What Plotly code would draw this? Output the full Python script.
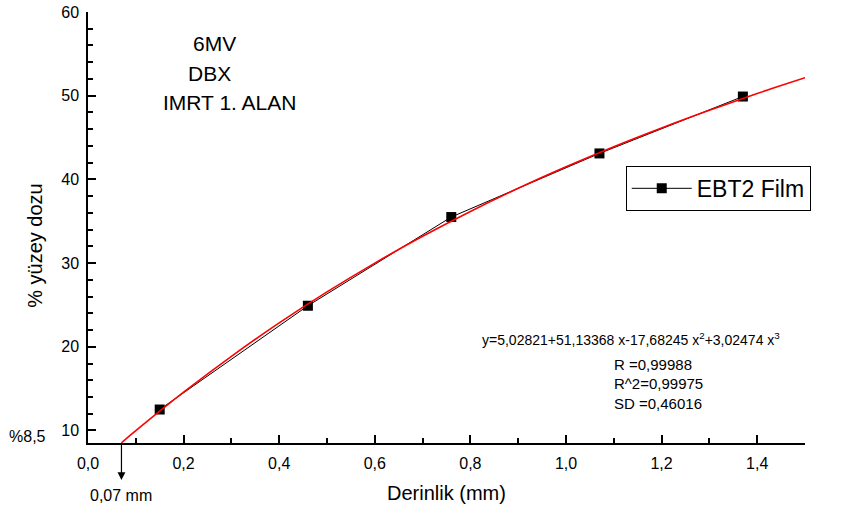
import plotly.graph_objects as go

# Measured data (EBT2 Film)
depth_mm = [0.15, 0.46, 0.76, 1.07, 1.37]
surface_dose = [12.5, 24.9, 35.5, 43.1, 49.9]

# Fitted polynomial curve
fit_x = [0.07, 0.10, 0.20, 0.30, 0.40, 0.50, 0.60, 0.70, 0.80, 0.90, 1.00, 1.10, 1.20, 1.30, 1.40, 1.50, 1.51]
fit_y = [8.52, 9.97, 14.57, 18.86, 22.85, 26.55, 30.00, 33.20, 36.17, 38.93, 41.50, 43.91, 46.15, 48.26, 50.26, 52.15, 52.35]

# Intercept marker
intercept_x = 0.07
intercept_label = "0,07 mm"
intercept_dose_label = "%8,5"

x_ticks = [0.0, 0.2, 0.4, 0.6, 0.8, 1.0, 1.2, 1.4]
y_ticks = [10, 20, 30, 40, 50, 60]

header_lines = ["6MV", "DBX", "IMRT 1. ALAN"]
equation = "y=5,02821+51,13368 x-17,68245 x<sup>2</sup>+3,02474 x<sup>3</sup>"
stats_lines = ["R =0,99988", "R^2=0,99975", "SD =0,46016"]
x_title = "Derinlik (mm)"
y_title = "% yüzey dozu"

FONT = "Liberation Sans, Arial, sans-serif"

fig = go.Figure()
fig.add_trace(go.Scatter(
    x=depth_mm, y=surface_dose, mode="lines+markers", name="EBT2 Film",
    line=dict(color="black", width=1),
    marker=dict(symbol="square", size=10, color="black"),
    cliponaxis=False,
))
fig.add_trace(go.Scatter(
    x=fit_x, y=fit_y, mode="lines", showlegend=False,
    line=dict(color="#ff0000", width=1.6, shape="spline"),
    cliponaxis=False,
))

annotations = []
for txt, px, py in zip(header_lines, [0.177, 0.170, 0.197], [0.926, 0.858, 0.791]):
    annotations.append(dict(text=txt, xref="paper", yref="paper", x=px, y=py,
                            xanchor="center", yanchor="middle", showarrow=False,
                            font=dict(size=21, color="black", family=FONT)))
annotations.append(dict(text=equation, xref="paper", yref="paper", x=0.547, y=0.241,
                        xanchor="left", yanchor="middle", showarrow=False,
                        font=dict(size=14, color="black", family=FONT)))
for txt, py in zip(stats_lines, [0.181, 0.137, 0.0905]):
    annotations.append(dict(text=txt, xref="paper", yref="paper", x=0.731, y=py,
                            xanchor="left", yanchor="middle", showarrow=False,
                            font=dict(size=15, color="black", family=FONT)))
annotations.append(dict(text=intercept_dose_label, xref="paper", yref="paper", x=-0.0837, y=0.016,
                        xanchor="center", yanchor="middle", showarrow=False,
                        font=dict(size=16, color="black", family=FONT)))
annotations.append(dict(text=intercept_label, xref="x", yref="paper", x=intercept_x, y=-0.121,
                        xanchor="center", yanchor="middle", showarrow=False,
                        font=dict(size=16, color="black", family=FONT)))
annotations.append(dict(text="", xref="x", yref="paper", x=intercept_x, y=-0.086,
                        ax=0, ay=-37, showarrow=True, arrowhead=2, arrowsize=1.3,
                        arrowwidth=1.2, arrowcolor="black"))
annotations.append(dict(text=y_title, xref="paper", yref="paper", x=-0.073, y=0.459,
                        xanchor="center", yanchor="middle", textangle=-90, showarrow=False,
                        font=dict(size=20, color="black", family=FONT)))
annotations.append(dict(text=x_title, xref="paper", yref="paper", x=0.5, y=-0.116,
                        xanchor="center", yanchor="middle", showarrow=False,
                        font=dict(size=20, color="black", family=FONT)))

fig.update_layout(
    width=847, height=516,
    margin=dict(l=88, r=42, t=12, b=73, autoexpand=False),
    paper_bgcolor="white", plot_bgcolor="white",
    separators=",.",
    font=dict(family=FONT, color="black"),
    showlegend=True,
    legend=dict(x=0.750, y=0.643, xanchor="left", yanchor="top",
                bordercolor="black", borderwidth=1, bgcolor="white",
                font=dict(size=23, color="black", family=FONT),
                itemwidth=60, tracegroupgap=0),
    annotations=annotations,
)
fig.update_xaxes(
    range=[0, 1.5], tickvals=x_ticks, tickformat=".1f", automargin=False,
    showgrid=False, zeroline=False,
    showline=True, linecolor="black", linewidth=1.5,
    ticks="inside", ticklen=8, tickwidth=1.5, tickcolor="black",
    minor=dict(ticks="inside", ticklen=5, tickwidth=1.5, dtick=0.1, tick0=0, tickcolor="black"),
    tickfont=dict(size=16, family=FONT), ticklabelstandoff=5,
)
fig.update_yaxes(
    range=[8.5, 60], tickvals=y_ticks, automargin=False,
    showgrid=False, zeroline=False,
    showline=True, linecolor="black", linewidth=1.5,
    ticks="inside", ticklen=8, tickwidth=1.5, tickcolor="black",
    minor=dict(ticks="inside", ticklen=5, tickwidth=1.5, dtick=2, tick0=0, tickcolor="black"),
    tickfont=dict(size=16, family=FONT), ticklabelstandoff=4,
    ticklabeloverflow="allow",
)

# Remove the default 8 px page margin so the figure sits at the window origin.
fig.write_html("out.html", config={"displayModeBar": False},
               post_script="document.body.style.margin='0';")
